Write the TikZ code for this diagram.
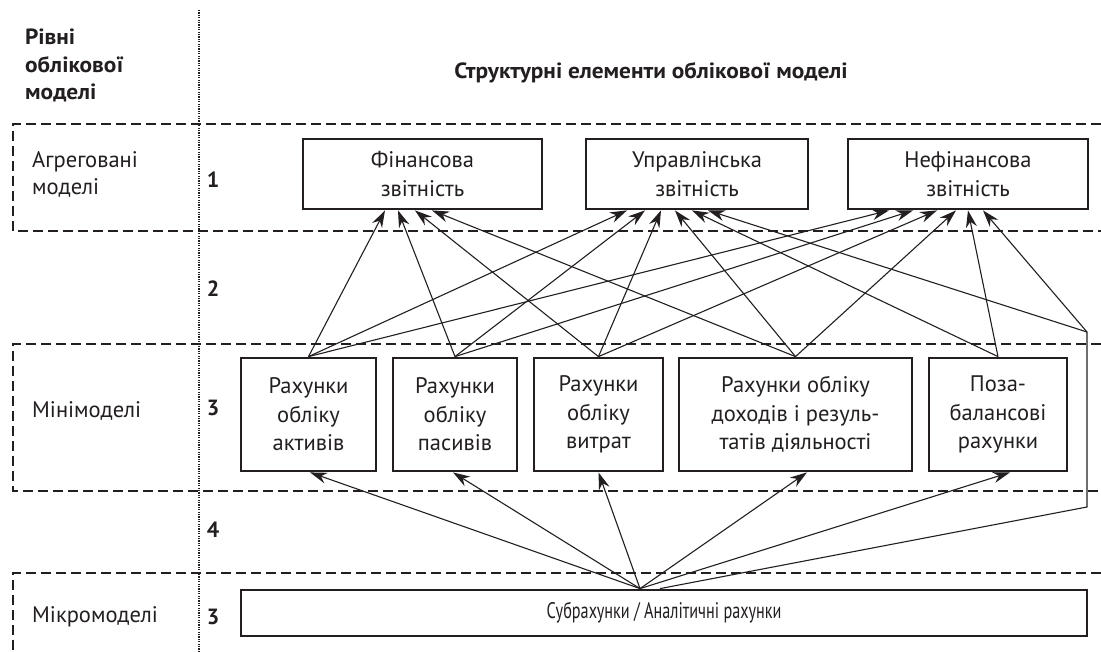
\documentclass[tikz,border=0pt]{standalone}
\usepackage{graphicx}
\usepackage{fontspec}
\setmainfont{PT Sans}
\newfontfamily\widebold[FakeStretch=1.06]{PT Sans Bold}
\usetikzlibrary{arrows.meta,calc}
\definecolor{ink}{HTML}{231F20}
\newcommand\boxfont{\fontsize{22.5}{28.5}\selectfont}
\newcommand\lblfont{\fontsize{22.5}{27.5}\selectfont}
\newcommand\hdrfont{\fontsize{22}{27.5}\selectfont\widebold}
\newcommand\numfont{\fontsize{22}{22}\selectfont\bfseries}
\begin{document}
\begin{tikzpicture}[x=1pt,y=-1pt,
  every node/.style={text=ink},
  box/.style={draw=ink, line width=2.8pt, inner sep=0pt, align=center, font=\boxfont},
  band/.style={draw=ink, line width=2.8pt, dash pattern=on 10pt off 5pt},
  conn/.style={draw=ink, line width=1.1pt, -{Stealth[length=17pt,width=11pt,inset=5.5pt]}},
  plainline/.style={draw=ink, line width=1.1pt},
  lbl/.style={anchor=base west, align=left, inner sep=0pt, font=\lblfont},
  num/.style={inner sep=0pt, font=\numfont},
]
\fill[white] (0,0) rectangle (1101,652);
\useasboundingbox (0,0) rectangle (1101,652);

% dotted separator
\draw[ink, line width=2pt, dash pattern=on 1.3pt off 1.1pt] (199,10) -- (199,652);

% bands
\draw[band] (1101,124) -- (13,124) -- (13,231) -- (1101,231);
\draw[band] (1101,344) -- (13,344) -- (13,491) -- (1101,491);
\draw[band] (1101,573) -- (13,573) -- (13,652);

% header texts
\node[lbl, font=\hdrfont] (hdr) at (25,45) {Рівні};
\node[lbl, font=\hdrfont] (hdr2) at (25,73) {облікової};
\node[lbl, font=\hdrfont] (hdr3) at (25,100) {моделі};
\node[inner sep=0pt, font=\hdrfont] (title) at (651,73) {Структурні елементи облікової моделі};

\node[lbl] (agg1) at (32,168) {Агреговані};
\node[lbl] (agg2) at (32,195) {моделі};
\node[lbl, anchor=west] (mini) at (32,411) {Мінімоделі};
\node[lbl, anchor=west] (micro) at (32,617) {Мікромоделі};

\node[num] (n1) at (213,180) {1};
\node[num] (n2) at (213,289) {2};
\node[num] (n3) at (213,408) {3};
\node[num] (n4) at (213,530) {4};
\node[num] (n5) at (213,617) {3};

% top boxes
\node[box, minimum width=239pt, minimum height=70pt] (fin) at (422.5,174) {Фінансова\\звітність};
\node[box, minimum width=222pt, minimum height=70pt] (upr) at (697,174) {Управлінська\\звітність};
\node[box, minimum width=240pt, minimum height=70pt] (nef) at (968,174) {Нефінансова\\звітність};

% middle boxes
\node[box, minimum width=135pt, minimum height=113pt] (akt) at (308.5,414.5) {Рахунки\\обліку\\активів};
\node[box, minimum width=124pt, minimum height=113pt] (pas) at (455,414.5) {Рахунки\\обліку\\пасивів};
\node[box, minimum width=129pt, minimum height=113pt] (vyt) at (598.5,414.5) {Рахунки\\обліку\\витрат};
\node[box, minimum width=233pt, minimum height=113pt] (doh) at (795.5,414.5) {Рахунки обліку\\доходів і резуль-\\татів діяльності};
\node[box, minimum width=138pt, minimum height=113pt] (poz) at (998,414.5) {Поза-\\балансові\\рахунки};

% bottom box
\node[box, minimum width=846pt, minimum height=46pt] (sub) at (664,613) {\scalebox{0.72}[1]{Субрахунки / Аналітичні рахунки}};

% upper arrows to Фінансова
\draw[conn] (akt.north) -- ([xshift=-37.5pt]fin.south);
\draw[conn] (pas.north) -- ([xshift=-24.5pt]fin.south);
\draw[conn] (vyt.north) -- ([xshift=-7.5pt]fin.south);
\draw[conn] (doh.north) -- ([xshift=9.5pt]fin.south);
% to Управлінська
\draw[conn] (akt.north) -- ([xshift=-70pt]upr.south);
\draw[conn] (pas.north) -- ([xshift=-52pt]upr.south);
\draw[conn] (vyt.north) -- ([xshift=-36pt]upr.south);
\draw[conn] (doh.north) -- ([xshift=-22pt]upr.south);
\draw[conn] (poz.north) -- ([xshift=-5pt]upr.south);
% to Нефінансова
\draw[conn] (akt.north) -- ([xshift=-79pt]nef.south);
\draw[conn] (pas.north) -- ([xshift=-55pt]nef.south);
\draw[conn] (vyt.north) -- ([xshift=-31pt]nef.south);
\draw[conn] (doh.north) -- ([xshift=-12pt]nef.south);
\draw[conn] (poz.north) -- ([xshift=0pt]nef.south);

% bypass line from bottom box
\coordinate (cb) at (1087,507);
\coordinate (ct) at (1087,332);
\coordinate (src2) at ([xshift=-4pt]sub.north);
\draw[plainline] (src2) -- (cb) -- (ct);
\draw[conn] (ct) -- ([xshift=11pt]upr.south);
\draw[conn] (ct) -- ([xshift=15pt]nef.south);

% lower fan
\coordinate (src) at ([xshift=-24pt]sub.north);
\draw[conn] (src) -- ([xshift=1.5pt]akt.south);
\draw[conn] (src) -- ([xshift=-2pt]pas.south);
\draw[conn] (src) -- (vyt.south);
\draw[conn] (src) -- ([xshift=11.5pt]doh.south);
\draw[conn] (src) -- ([xshift=12pt]poz.south);
\end{tikzpicture}
\end{document}
